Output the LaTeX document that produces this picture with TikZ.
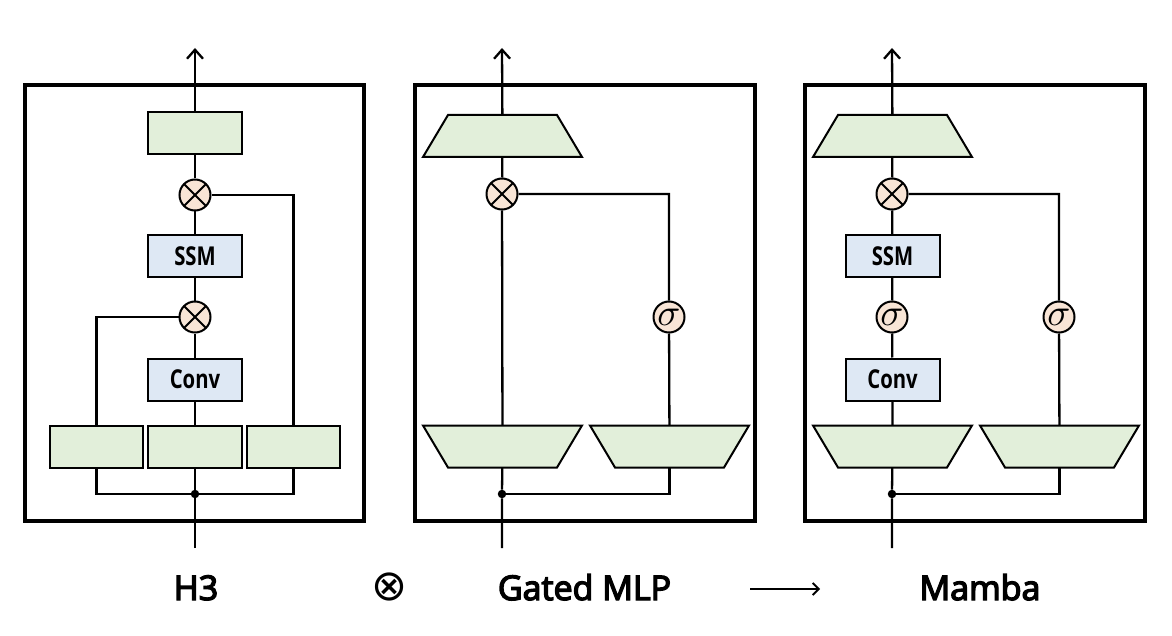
\documentclass[tikz,border=0pt]{standalone}
\usepackage{fontspec}
\setmainfont{Open Sans}
\newfontfamily\labfont{Open Sans}[FakeBold=4]
\newfontfamily\symfont{DejaVu Sans}
\usetikzlibrary{arrows.meta,backgrounds}
\definecolor{gfill}{HTML}{E2EFDA}
\definecolor{bfill}{HTML}{DEE8F4}
\definecolor{pfill}{HTML}{F8E5D6}
\newcommand\optxt[1]{\scalebox{0.78}[1]{\fontsize{26}{26}\selectfont\bfseries #1}}
\newcommand\bigsig{\scalebox{3.8}{$\sigma$}}
% trapezoid: name, x, y, dir (1 = narrow top, -1 = narrow bottom)
\newcommand\trapnode[4]{%
  \coordinate (#1) at (#2,#3);
  \filldraw[trapstyle] ({#2-79.5},{#3+21*#4}) -- ++(159,0) -- ++(-25,{-42*#4}) -- ++(-109,0) -- cycle;}
\begin{document}
\begin{tikzpicture}[x=1pt,y=-1pt,
  outer/.style={draw=black,line width=3.4pt},
  wire/.style={line width=2.3pt},
  outarrow/.style={wire,-{Straight Barb[length=9pt,width=16pt,line width=2.3pt]}},
  linbox/.style={draw,fill=gfill,line width=2pt,minimum width=94pt,minimum height=42pt,inner sep=0pt},
  opbox/.style={draw,fill=bfill,line width=2pt,minimum width=94pt,minimum height=42pt,inner sep=0pt},
  mulop/.style={circle,draw,fill=pfill,line width=2pt,minimum size=31pt,inner sep=0pt,
    path picture={\draw[line width=2pt] (path picture bounding box.north west) -- (path picture bounding box.south east)
      (path picture bounding box.north east) -- (path picture bounding box.south west);}},
  sigop/.style={circle,draw,fill=pfill,line width=2pt,minimum size=31pt,inner sep=0pt},
  trapstyle/.style={draw=black,fill=gfill,line width=2pt,line join=miter},
  junc/.style={circle,fill=black,inner sep=0pt,minimum size=8.5pt},
  lab/.style={font=\labfont\fontsize{34}{34}\selectfont,anchor=base,inner sep=0pt}
]
\useasboundingbox (0,0) rectangle (1172,636);

% ---------------- H3 ----------------
\draw[outer] (25,85) rectangle (364,521);
\node[linbox] (h3top) at (195,133) {};
\node[mulop] (h3x1) at (195,195) {};
\node[opbox] (h3ssm) at (195,256) {\optxt{SSM}};
\node[mulop] (h3x2) at (195,317) {};
\node[opbox] (h3conv) at (195,379.5) {\optxt{Conv}};
\node[linbox,minimum width=93pt] (h3l) at (96.5,446.5) {};
\node[linbox] (h3m) at (195,446.5) {};
\node[linbox,minimum width=93pt] (h3r) at (293.5,446.5) {};
\node[junc] (h3j) at (195,494) {};
\coordinate (h3in) at (195,548);
\coordinate (h3out) at (195,48);

% ---------------- Gated MLP ----------------
\draw[outer] (415,85) rectangle (755,521);
\trapnode{gtop}{502.5}{136}{1}
\node[mulop] (gx) at (502,194) {};
\node[sigop] (gs) at (669,317) {};
\node (gst) at (669,317) {\bigsig};
\trapnode{gl}{502.5}{446.5}{-1}
\trapnode{gr}{669.5}{446.5}{-1}
\node[junc] (gj) at (502,494) {};
\coordinate (gin) at (502,548);
\coordinate (gout) at (502,48);

% ---------------- Mamba ----------------
\draw[outer] (805,85) rectangle (1145,521);
\trapnode{mtop}{892.5}{136}{1}
\node[mulop] (mx) at (892,194) {};
\node[opbox] (mssm) at (892.5,256) {\optxt{SSM}};
\node[sigop] (ms1) at (892,317) {};
\node (ms1t) at (892,317) {\bigsig};
\node[opbox] (mconv) at (892.5,379.5) {\optxt{Conv}};
\node[sigop] (ms2) at (1059,317) {};
\node (ms2t) at (1059,317) {\bigsig};
\trapnode{ml}{892.5}{446.5}{-1}
\trapnode{mr}{1059.5}{446.5}{-1}
\node[junc] (mj) at (892,494) {};
\coordinate (min) at (892,548);
\coordinate (mout) at (892,48);

% ---------------- wires ----------------
\begin{scope}[on background layer]
  \fill[white] (0,0) rectangle (1172,636);
  % H3
  \draw[wire] (h3in) -- (h3j) -- (h3m) -- (h3conv) -- (h3x2) -- (h3ssm) -- (h3x1) -- (h3top);
  \draw[outarrow] (h3top) -- (h3out);
  \draw[wire] (h3l) |- (h3j) -| (h3r);
  \draw[wire] (h3l) |- (h3x2);
  \draw[wire] (h3r) |- (h3x1);
  % Gated MLP
  \draw[wire] (gin) -- (gj) -- (gl) -- (gx) -- (gtop);
  \draw[outarrow] (gtop) -- (gout);
  \draw[wire] (gj) -| (gr);
  \draw[wire] (gr) -- (gs) |- (gx);
  % Mamba
  \draw[wire] (min) -- (mj) -- (ml) -- (mconv) -- (ms1) -- (mssm) -- (mx) -- (mtop);
  \draw[outarrow] (mtop) -- (mout);
  \draw[wire] (mj) -| (mr);
  \draw[wire] (mr) -- (ms2) |- (mx);
\end{scope}

% ---------------- labels ----------------
\node[lab] (labh3) at (196,600) {H3};
\node[inner sep=0pt,font=\symfont\fontsize{43}{43}\selectfont] (labx) at (390,587) {⊗};
\node[lab] (labg) at (584.5,600) {Gated MLP};
\coordinate (arra) at (750,589);
\coordinate (arrb) at (820,589);
\draw[line width=1.8pt,-{Straight Barb[length=6pt,width=12pt,line width=1.8pt]}] (arra) -- (arrb);
\node[lab] (labm) at (980,600) {Mamba};
\end{tikzpicture}
\end{document}
